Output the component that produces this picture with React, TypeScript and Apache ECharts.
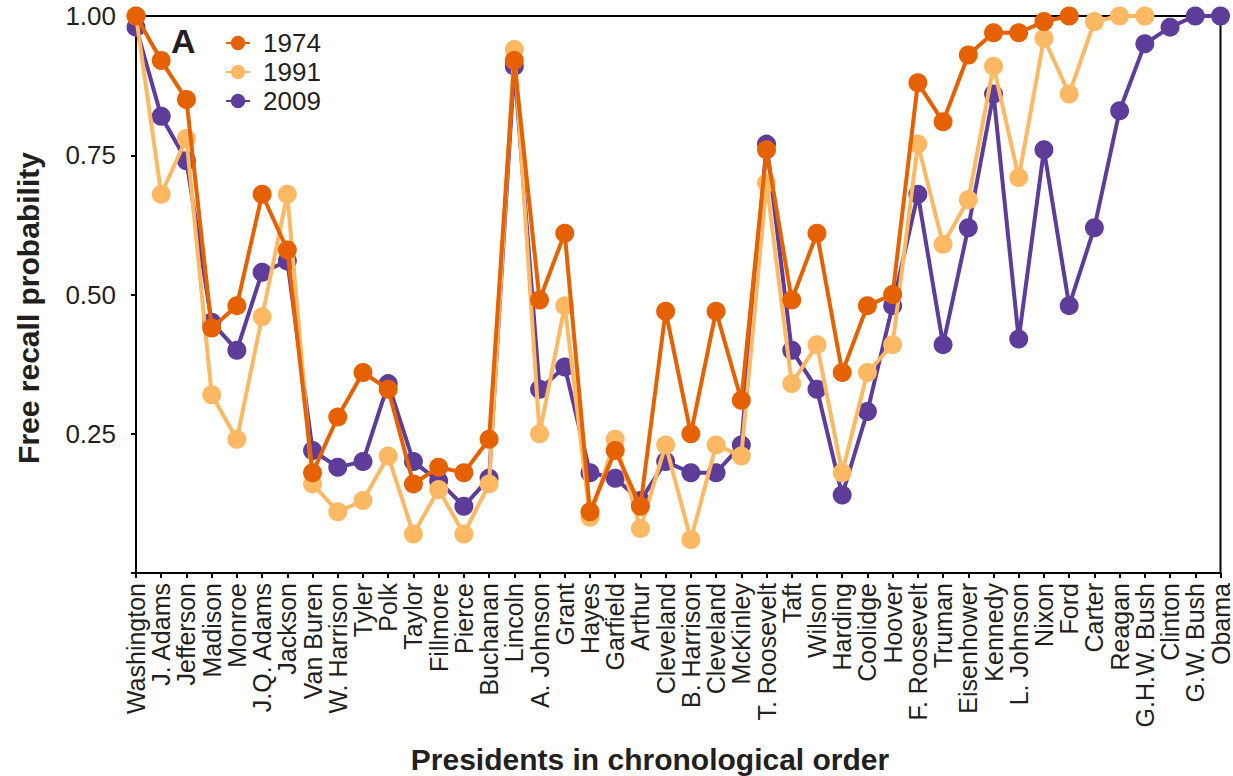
import React, { useEffect, useRef } from "react";
import * as echarts from "echarts";

const presidents = [
  "Washington", "J. Adams", "Jefferson", "Madison", "Monroe", "J.Q. Adams", "Jackson",
  "Van Buren", "W. Harrison", "Tyler", "Polk", "Taylor", "Fillmore", "Pierce", "Buchanan",
  "Lincoln", "A. Johnson", "Grant", "Hayes", "Garfield", "Arthur", "Cleveland", "B. Harrison",
  "Cleveland", "McKinley", "T. Roosevelt", "Taft", "Wilson", "Harding", "Coolidge", "Hoover",
  "F. Roosevelt", "Truman", "Eisenhower", "Kennedy", "L. Johnson", "Nixon", "Ford", "Carter",
  "Reagan", "G.H.W. Bush", "Clinton", "G.W. Bush", "Obama",
];

const recall1974 = [
  1.0, 0.92, 0.85, 0.44, 0.48, 0.68, 0.58, 0.18, 0.28, 0.36, 0.33, 0.16, 0.19, 0.18, 0.24,
  0.92, 0.49, 0.61, 0.11, 0.22, 0.12, 0.47, 0.25, 0.47, 0.31, 0.76, 0.49, 0.61, 0.36, 0.48,
  0.5, 0.88, 0.81, 0.93, 0.97, 0.97, 0.99, 1.0,
];

const recall1991 = [
  1.0, 0.68, 0.78, 0.32, 0.24, 0.46, 0.68, 0.16, 0.11, 0.13, 0.21, 0.07, 0.15, 0.07, 0.16,
  0.94, 0.25, 0.48, 0.1, 0.24, 0.08, 0.23, 0.06, 0.23, 0.21, 0.7, 0.34, 0.41, 0.18, 0.36,
  0.41, 0.77, 0.59, 0.67, 0.91, 0.71, 0.96, 0.86, 0.99, 1.0, 1.0,
];

const recall2009 = [
  0.98, 0.82, 0.74, 0.45, 0.4, 0.54, 0.56, 0.22, 0.19, 0.2, 0.34, 0.2, 0.165, 0.12, 0.17,
  0.91, 0.33, 0.37, 0.18, 0.17, 0.13, 0.2, 0.18, 0.18, 0.23, 0.77, 0.4, 0.33, 0.14, 0.29,
  0.48, 0.68, 0.41, 0.62, 0.86, 0.42, 0.76, 0.48, 0.62, 0.83, 0.95, 0.98, 1.0, 1.0,
];

const yTicks = [0, 0.25, 0.5, 0.75, 1.0];

const COLORS = { y1974: "#e66101", y1991: "#fdb863", y2009: "#5e3c99" };
const FONT = "'Liberation Sans', Arial, Helvetica, sans-serif";
const TEXT = "#231f20";

export default function App() {
  const ref = useRef<HTMLDivElement>(null);

  useEffect(() => {
    if (!ref.current) return;
    const chart = echarts.init(ref.current, undefined, { renderer: "svg" });

    const mkSeries = (name: string, data: number[], color: string, z: number) => ({
      name,
      type: "line",
      data,
      z,
      symbol: "circle",
      symbolSize: 19,
      showSymbol: true,
      lineStyle: { width: 4, color },
      itemStyle: { color },
      emphasis: { disabled: true },
    });

    chart.setOption({
      animation: false,
      textStyle: { fontFamily: FONT },
      grid: {
        left: 136,
        right: 12,
        top: 16,
        bottom: 203,
        show: true,
        borderColor: "#000",
        borderWidth: 2,
        containLabel: false,
      },
      legend: {
        orient: "vertical",
        left: 220,
        top: 25,
        itemWidth: 24,
        itemHeight: 18,
        itemGap: 3,
        data: ["1974", "1991", "2009"],
        textStyle: { fontSize: 26, color: TEXT, fontFamily: FONT, padding: [0, 0, 0, 8] },
      },
      xAxis: {
        type: "category",
        data: presidents,
        boundaryGap: false,
        axisLine: { lineStyle: { color: "#000", width: 2 } },
        axisTick: { show: true, length: 5, interval: 0, lineStyle: { color: "#000", width: 2 } },
        axisLabel: {
          interval: 0,
          rotate: 90,
          margin: 10,
          fontSize: 25,
          color: TEXT,
          fontFamily: FONT,
        },
        splitLine: { show: false },
      },
      yAxis: {
        type: "value",
        min: yTicks[0],
        max: yTicks[yTicks.length - 1],
        interval: 0.25,
        axisLine: { show: true, lineStyle: { color: "#000", width: 2 } },
        axisTick: { show: true, length: 5, lineStyle: { color: "#000", width: 2 } },
        axisLabel: {
          margin: 20,
          fontSize: 26,
          color: TEXT,
          fontFamily: FONT,
          formatter: (v: number) => (v === 0 ? "" : v.toFixed(2)),
        },
        splitLine: { show: false },
      },
      graphic: [
        {
          type: "text",
          left: 171,
          top: 24,
          style: { text: "A", fontSize: 34, fontWeight: "bold", fill: TEXT, fontFamily: FONT },
        },
        {
          type: "text",
          x: 650,
          y: 759,
          style: {
            text: "Presidents in chronological order",
            fontSize: 30,
            fontWeight: "bold",
            fill: TEXT,
            fontFamily: FONT,
            align: "center",
            verticalAlign: "middle",
          },
        },
        {
          type: "text",
          x: 28,
          y: 308,
          rotation: Math.PI / 2,
          style: {
            text: "Free recall probability",
            fontSize: 30,
            fontWeight: "bold",
            fill: TEXT,
            fontFamily: FONT,
            align: "center",
            verticalAlign: "middle",
          },
        },
      ],
      series: [
        mkSeries("2009", recall2009, COLORS.y2009, 2),
        mkSeries("1991", recall1991, COLORS.y1991, 3),
        mkSeries("1974", recall1974, COLORS.y1974, 4),
      ],
    });

    return () => chart.dispose();
  }, []);

  return (
    <div
      ref={ref}
      style={{ position: "fixed", left: 0, top: 0, width: 1233, height: 776, background: "#fff" }}
    />
  );
}
